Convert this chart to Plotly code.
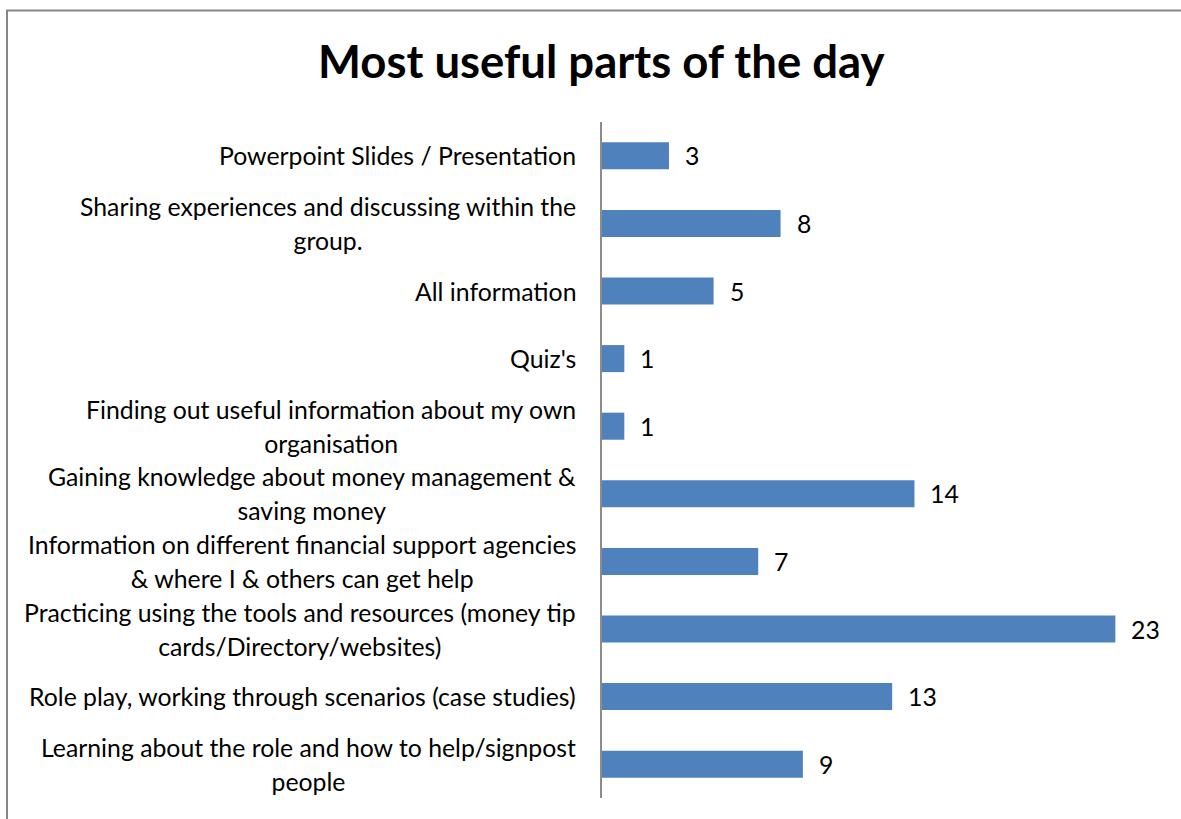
import plotly.graph_objects as go

categories = [
    "Powerpoint Slides / Presentation",
    "Sharing experiences and discussing within the<br>group.",
    "All information",
    "Quiz's",
    "Finding out useful information about my own<br>organisation",
    "Gaining knowledge about money management &<br>saving money",
    "Information on different financial support agencies<br>& where I & others can get help",
    "Practicing using the tools and resources (money tip<br>cards/Directory/websites)",
    "Role play, working through scenarios (case studies)",
    "Learning about the role and how to help/signpost<br>people",
]
values = [3, 8, 5, 1, 1, 14, 7, 23, 13, 9]
title_text = "Most useful parts of the day"

W, H = 1181, 819
L, R, T, B = 602, 21, 122, 21
pw, ph = W - L - R, H - T - B
FONT = "Lato, Open Sans, sans-serif"
BASE = 26
GLYPH = 24.8

def px_to_paper_x(px):
    return (px - L) / pw

def px_to_paper_y(py):
    return (H - B - py) / ph

fig = go.Figure()
fig.add_trace(go.Bar(
    x=values, y=categories, orientation="h",
    marker=dict(color="#4F81BD", line=dict(width=0)),
    hoverinfo="x+y",
))

annotations = []
span_open = '<span style="font-size:%spx">' % GLYPH
for c in categories:
    annotations.append(dict(
        x=px_to_paper_x(578), xref="paper", y=c, yref="y",
        xanchor="right", yanchor="middle", align="center",
        text=span_open + c.replace("<br>", "</span><br>" + span_open) + "</span>",
        showarrow=False, font=dict(family=FONT, size=BASE, color="#000000"),
    ))
for c, v in zip(categories, values):
    annotations.append(dict(
        x=v, xref="x", y=c, yref="y", xanchor="left", yanchor="middle",
        xshift=14, text=str(v), showarrow=False,
        font=dict(family=FONT, size=GLYPH, color="#000000"),
    ))
annotations.append(dict(
    x=px_to_paper_x(601), xref="paper", y=px_to_paper_y(61), yref="paper",
    text="<b>%s</b>" % title_text, showarrow=False,
    xanchor="center", yanchor="middle",
    font=dict(family=FONT, size=45.5, color="#000000"),
))

fig.update_layout(
    width=W, height=H,
    margin=dict(l=L, r=R, t=T, b=B, pad=0),
    paper_bgcolor="#FFFFFF", plot_bgcolor="#FFFFFF",
    bargap=0.6, showlegend=False,
    xaxis=dict(range=[0, 25], visible=False, fixedrange=True),
    yaxis=dict(autorange="reversed", showticklabels=False, showgrid=False,
               zeroline=False, showline=True, linecolor="#8C8C8C", linewidth=1.5,
               ticks=""),
    annotations=annotations,
    shapes=[dict(type="rect", xref="paper", yref="paper",
                 x0=px_to_paper_x(7), x1=px_to_paper_x(1300),
                 y0=px_to_paper_y(900), y1=px_to_paper_y(10.5),
                 line=dict(color="#868686", width=2), fillcolor="rgba(0,0,0,0)",
                 layer="below")],
)
fig.write_html("out.html")
